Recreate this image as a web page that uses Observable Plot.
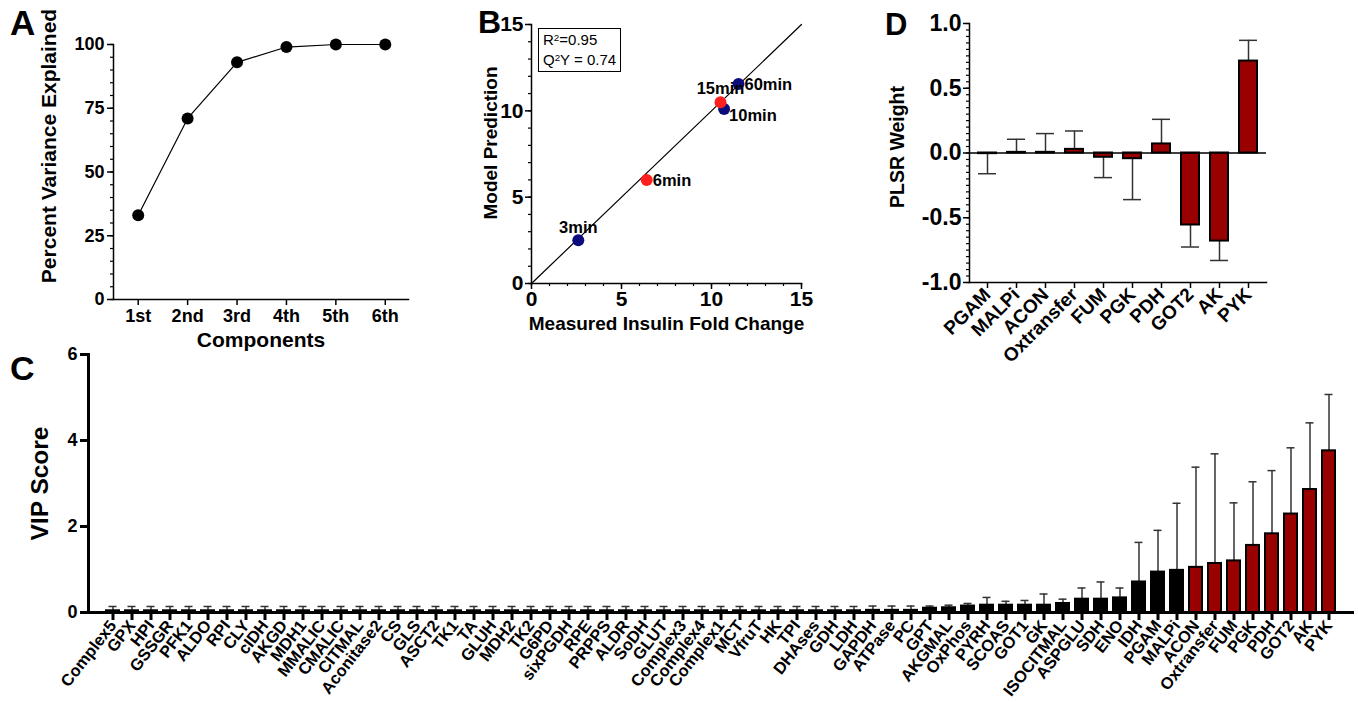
<!DOCTYPE html>
<html><head><meta charset="utf-8">
<script src="https://cdn.jsdelivr.net/npm/d3@7"></script>
<script src="https://cdn.jsdelivr.net/npm/@observablehq/plot@0.6"></script>
<style>
body{margin:0;background:#fff;}
#root{position:relative;width:1358px;height:702px;overflow:hidden;font-family:"Liberation Sans",Arial,Helvetica,sans-serif;background:#fff;}
.panel{position:absolute;}
.panel svg{overflow:visible;display:block;}
.letter{position:absolute;font-weight:bold;line-height:1;color:#000;}
.statbox{position:absolute;border:1.5px solid #000;font-size:15px;line-height:20px;padding:1px 4px 1px 4px;background:#fff;white-space:nowrap;}
.statbox sup{font-size:0.65em;position:relative;top:-0.45em;line-height:0;vertical-align:baseline;}
</style></head><body><div id="root"></div>
<script>
// ---------- Panel A data ----------
const compLabels = ["1st", "2nd", "3rd", "4th", "5th", "6th"];
const compVariance = [33, 71, 93, 99, 100, 100];

// ---------- Panel B data ----------
const timeLabels = ["3min", "6min", "10min", "15min", "60min"];
const measuredFC = [2.6, 6.4, 10.7, 10.5, 11.5];
const predictedFC = [2.5, 6.0, 10.1, 10.5, 11.55];
const timeSet = ["train", "test", "train", "test", "train"];
const fcAxis = [0, 15];

// ---------- Panel C data ----------
const vipFeatures = ["Complex5","GPX","HPI","GSSGR","PFK1","ALDO","RPI","CLY","cIDH","AKGD","MDH1","MMALIC","CMALIC","CITMAL","Aconitase2","CS","GLS","ASCT2","TK1","TA","GLUH","MDH2","TK2","G6PD","sixPGDH","RPE","PRPPS","ALDR","SoDH","GLUT","Complex3","Complex4","Complex1","MCT","VfruT","HK","TPI","DHAses","GDH","LDH","GAPDH","ATPase","PC","GPT","AKGMAL","OxPhos","PYRH","SCOAS","GOT1","GK","ISOCITMAL","ASPGLU","SDH","ENO","IDH","PGAM","MALPi","ACON","Oxtransfer","FUM","PGK","PDH","GOT2","AK","PYK"];
const vipScores = [0.04,0.04,0.04,0.04,0.04,0.04,0.04,0.04,0.04,0.04,0.04,0.04,0.04,0.04,0.04,0.04,0.04,0.04,0.04,0.04,0.04,0.04,0.04,0.04,0.04,0.04,0.04,0.04,0.04,0.04,0.04,0.04,0.04,0.04,0.04,0.04,0.04,0.04,0.04,0.04,0.05,0.05,0.05,
  0.10,0.11,0.15,0.17,0.17,0.17,0.17,0.21,0.31,0.31,0.34,0.71,0.94,0.98,1.05,1.14,1.20,1.56,1.83,2.29,2.86,3.76];
const vipErrTop = [0.14,0.14,0.14,0.14,0.14,0.14,0.14,0.14,0.14,0.14,0.14,0.14,0.14,0.14,0.14,0.14,0.14,0.14,0.14,0.14,0.14,0.14,0.14,0.14,0.14,0.14,0.14,0.14,0.14,0.14,0.14,0.14,0.14,0.14,0.14,0.14,0.14,0.14,0.14,0.14,0.15,0.15,0.15,
  0.15,0.17,0.21,0.35,0.26,0.28,0.43,0.31,0.57,0.71,0.57,1.63,1.91,2.54,3.38,3.69,2.55,3.04,3.30,3.83,4.41,5.07];
const vipTicks = [0, 2, 4, 6];

// ---------- Panel D data ----------
const plsrFeatures = ["PGAM","MALPi","ACON","Oxtransfer","FUM","PGK","PDH","GOT2","AK","PYK"];
const plsrWeights = [-0.005, 0.005, 0.005, 0.028, -0.033, -0.044, 0.07, -0.556, -0.68, 0.71];
const plsrErrEnd = [-0.16, 0.106, 0.15, 0.17, -0.19, -0.36, 0.26, -0.726, -0.83, 0.87];
const plsrTicks = [-1, -0.5, 0, 0.5, 1];

// ---------- helpers ----------
const FONT = "'Liberation Sans', Arial, Helvetica, sans-serif";
const BAR_RED = "#990000";
const root = document.getElementById("root");
const baseStyle = {background: "transparent", fontFamily: FONT, overflow: "visible", color: "#000"};
function place(node, left, top) {
  const d = document.createElement("div");
  d.className = "panel";
  d.style.left = left + "px";
  d.style.top = top + "px";
  d.appendChild(node);
  root.appendChild(d);
}
function letter(txt, left, top, size) {
  const d = document.createElement("div");
  d.className = "letter";
  d.textContent = txt;
  d.style.left = left + "px";
  d.style.top = top + "px";
  d.style.fontSize = size + "px";
  root.appendChild(d);
}
const yTitle = (txt, dx, dy, size) => Plot.text([txt], {text: d => d, frameAnchor: "left", textAnchor: "middle", lineAnchor: "middle", rotate: -90, dx, dy, fontSize: size, fontWeight: "bold"});
const xTitle = (txt, dy, size) => Plot.text([txt], {text: d => d, frameAnchor: "bottom", textAnchor: "middle", lineAnchor: "middle", dy, fontSize: size, fontWeight: "bold"});

// ---------- Panel A ----------
const dataA = compLabels.map((c, i) => ({idx: i + 1, label: c, v: compVariance[i]}));
const plotA = Plot.plot({
  width: 440, height: 360,
  marginLeft: 113, marginRight: 32, marginTop: 44, marginBottom: 61,
  style: baseStyle,
  x: {domain: [0.5, 6.47]},
  y: {domain: [0, 100]},
  marks: [
    Plot.axisY({ticks: d3.range(0, 101, 5), tickSize: 3, tickFormat: () => "", label: null, strokeWidth: 1.2}),
    Plot.axisY({ticks: [0, 25, 50, 75, 100], tickSize: 6, tickPadding: 3, fontSize: 18, fontWeight: "bold", label: null, strokeWidth: 1.5}),
    Plot.axisX({ticks: dataA.map(d => d.idx), tickFormat: i => compLabels[i - 1], tickSize: 6, tickPadding: 4, fontSize: 18, fontWeight: "bold", label: null, strokeWidth: 1.5}),
    Plot.frame({anchor: "left", strokeWidth: 1.5}),
    Plot.frame({anchor: "bottom", strokeWidth: 1.5}),
    Plot.line(dataA, {x: "idx", y: "v", stroke: "black", strokeWidth: 1.2}),
    Plot.dot(dataA, {x: "idx", y: "v", r: 6, fill: "black"}),
    yTitle("Percent Variance Explained", -64, -26, 21),
    xTitle("Components", 41, 21)
  ]
});
place(plotA, 0, 0);

// ---------- Panel B ----------
const dataB = timeLabels.map((t, i) => ({t, m: measuredFC[i], p: predictedFC[i], set: timeSet[i]}));
const plotB = Plot.plot({
  width: 370, height: 340,
  marginLeft: 51, marginRight: 49, marginTop: 24, marginBottom: 57,
  style: baseStyle,
  x: {domain: fcAxis},
  y: {domain: fcAxis},
  color: {domain: ["train", "test"], range: ["#0c0c7c", "#ff1f1f"]},
  marks: [
    Plot.axisY({ticks: d3.range(0, 16, 1), tickSize: 3, tickFormat: () => "", label: null, strokeWidth: 1.2}),
    Plot.axisX({ticks: d3.range(0, 16, 1), tickSize: 3, tickFormat: () => "", label: null, strokeWidth: 1.2}),
    Plot.axisY({ticks: [0, 5, 10, 15], tickSize: 6, tickPadding: 2, fontSize: 21, fontWeight: "bold", label: null, strokeWidth: 1.5}),
    Plot.axisX({ticks: [0, 5, 10, 15], tickSize: 6, tickPadding: 2, fontSize: 21, fontWeight: "bold", label: null, strokeWidth: 1.5}),
    Plot.frame({anchor: "left", strokeWidth: 1.5}),
    Plot.frame({anchor: "bottom", strokeWidth: 1.5}),
    Plot.line(fcAxis, {x: d => d, y: d => d, stroke: "black", strokeWidth: 1.2}),
    Plot.dot(dataB, {x: "m", y: "p", fill: "set", r: 6}),
    Plot.text(dataB.filter(d => d.t === "3min" || d.t === "15min"), {x: "m", y: "p", text: "t", dy: -13, fontSize: 16.5, fontWeight: "bold"}),
    Plot.text(dataB.filter(d => d.t === "6min" || d.t === "60min"), {x: "m", y: "p", text: "t", textAnchor: "start", dx: 6, dy: 1, fontSize: 16.5, fontWeight: "bold"}),
    Plot.text(dataB.filter(d => d.t === "10min"), {x: "m", y: "p", text: "t", textAnchor: "start", dx: 5, dy: 7, fontSize: 16.5, fontWeight: "bold"}),
    xTitle("Measured Insulin Fold Change", 40, 19),
    yTitle("Model Prediction", -41, -11, 19)
  ]
});
place(plotB, 480, 0);
const box = document.createElement("div");
box.className = "statbox";
box.innerHTML = "R<sup>2</sup>=0.95<br>Q<sup>2</sup>Y = 0.74";
box.style.left = "538px";
box.style.top = "28px";
root.appendChild(box);

// ---------- Panel C ----------
const dataC = vipFeatures.map((f, i) => ({f, v: vipScores[i], e: vipErrTop[i]}));
const plotC = Plot.plot({
  width: 1358, height: 362,
  marginLeft: 88, marginRight: 6, marginTop: 14, marginBottom: 90,
  style: baseStyle,
  x: {type: "band", domain: vipFeatures, paddingInner: 0.33, paddingOuter: 0.35},
  y: {domain: [0, 6]},
  color: {type: "identity"},
  marks: [
    Plot.ruleX(dataC, {x: "f", y1: "v", y2: "e", stroke: "#333", strokeWidth: 1.5}),
    Plot.tickY(dataC, {x: "f", y: "e", stroke: "#333", strokeWidth: 1.5, insetLeft: 2.5, insetRight: 2.5}),
    Plot.barY(dataC, {x: "f", y: "v", fill: d => d.v > 1 ? BAR_RED : "black", stroke: "black", strokeWidth: 2}),
    Plot.axisY({ticks: vipTicks, tickFormat: d3.format("d"), tickSize: 8, tickPadding: 3, fontSize: 18, fontWeight: "bold", label: null, strokeWidth: 3}),
    Plot.axisX({tickSize: 8, tickPadding: 2, tickRotate: -52, fontSize: 16.5, fontWeight: "bold", label: null, strokeWidth: 3}),
    Plot.frame({anchor: "left", strokeWidth: 3}),
    Plot.frame({anchor: "bottom", strokeWidth: 3}),
    yTitle("VIP Score", -48, 0, 24.5)
  ]
});
place(plotC, 0, 340);

// ---------- Panel D ----------
const dataD = plsrFeatures.map((f, i) => ({f, w: plsrWeights[i], e: plsrErrEnd[i]}));
const plotD = Plot.plot({
  width: 498, height: 350,
  marginLeft: 109, marginRight: 92, marginTop: 23, marginBottom: 68,
  style: baseStyle,
  x: {type: "band", domain: plsrFeatures, paddingInner: 0.38, paddingOuter: 0.31},
  y: {domain: [-1, 1]},
  marks: [
    Plot.axisY({ticks: d3.range(-20, 21, 1).map(k => k / 20), tickSize: 3, tickFormat: () => "", label: null, strokeWidth: 1.2}),
    Plot.axisY({ticks: plsrTicks, tickSize: 6, tickPadding: 2, tickFormat: d => d.toFixed(1), fontSize: 23, fontWeight: "bold", label: null, strokeWidth: 1.5}),
    Plot.axisX({tickSize: 6, tickPadding: 3, tickRotate: -45, fontSize: 19, fontWeight: "bold", label: null, strokeWidth: 1.5}),
    Plot.frame({anchor: "left", strokeWidth: 1.5}),
    Plot.frame({anchor: "bottom", strokeWidth: 1.5}),
    Plot.ruleX(dataD, {x: "f", y1: "w", y2: "e", stroke: "#333", strokeWidth: 1.5}),
    Plot.tickY(dataD, {x: "f", y: "e", stroke: "#333", strokeWidth: 1.5}),
    Plot.barY(dataD, {x: "f", y: "w", fill: BAR_RED, stroke: "black", strokeWidth: 2}),
    Plot.ruleY([0], {stroke: "black", strokeWidth: 1.5}),
    yTitle("PLSR Weight", -72, -6, 19.5)
  ]
});
place(plotD, 860, 0);

// ---------- panel letters ----------
letter("A", 10, 5, 35);
letter("B", 478, 6, 32);
letter("C", 10, 351, 34);
letter("D", 885, 9, 31);
</script></body></html>
